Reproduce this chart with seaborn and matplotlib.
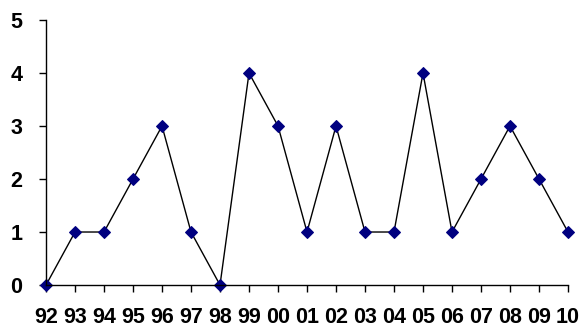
import matplotlib
matplotlib.use("Agg")
import matplotlib.pyplot as plt
import seaborn as sns
import pandas as pd

# Values
years = ["92", "93", "94", "95", "96", "97", "98", "99", "00", "01",
         "02", "03", "04", "05", "06", "07", "08", "09", "10"]
counts = [0, 1, 1, 2, 3, 1, 0, 4, 3, 1, 3, 1, 1, 4, 1, 2, 3, 2, 1]

df = pd.DataFrame({"pos": range(len(years)), "count": counts})

sns.set_style("ticks")
plt.rcParams["font.family"] = ["Liberation Sans", "DejaVu Sans"]

fig = plt.figure(figsize=(5.84, 3.27), dpi=100)
ax = fig.add_axes([0.0788, 0.1284, 0.8938, 0.8104])

sns.lineplot(data=df, x="pos", y="count", ax=ax, color="black", linewidth=1,
             marker="D", markersize=6, markerfacecolor="#000080",
             markeredgecolor="#000080", clip_on=False)

ax.set_xlim(0, len(years) - 1)
ax.set_ylim(0, 5)
ax.set_xticks(range(len(years)))
ax.set_xticklabels(years, fontsize=15.5, fontweight="bold")
ax.set_yticks(range(6))
ax.set_yticklabels([str(v) for v in range(6)], fontsize=15.5, fontweight="bold")
ax.tick_params(axis="x", length=5, width=1, pad=11, color="black", labelcolor="black")
ax.tick_params(axis="y", length=5, width=1, pad=12, color="black", labelcolor="black")
ax.set_xlabel("")
ax.set_ylabel("")
for s in ["left", "bottom"]:
    ax.spines[s].set_color("black")
    ax.spines[s].set_linewidth(1)
sns.despine(ax=ax)

fig.savefig("out.png", dpi=100)
